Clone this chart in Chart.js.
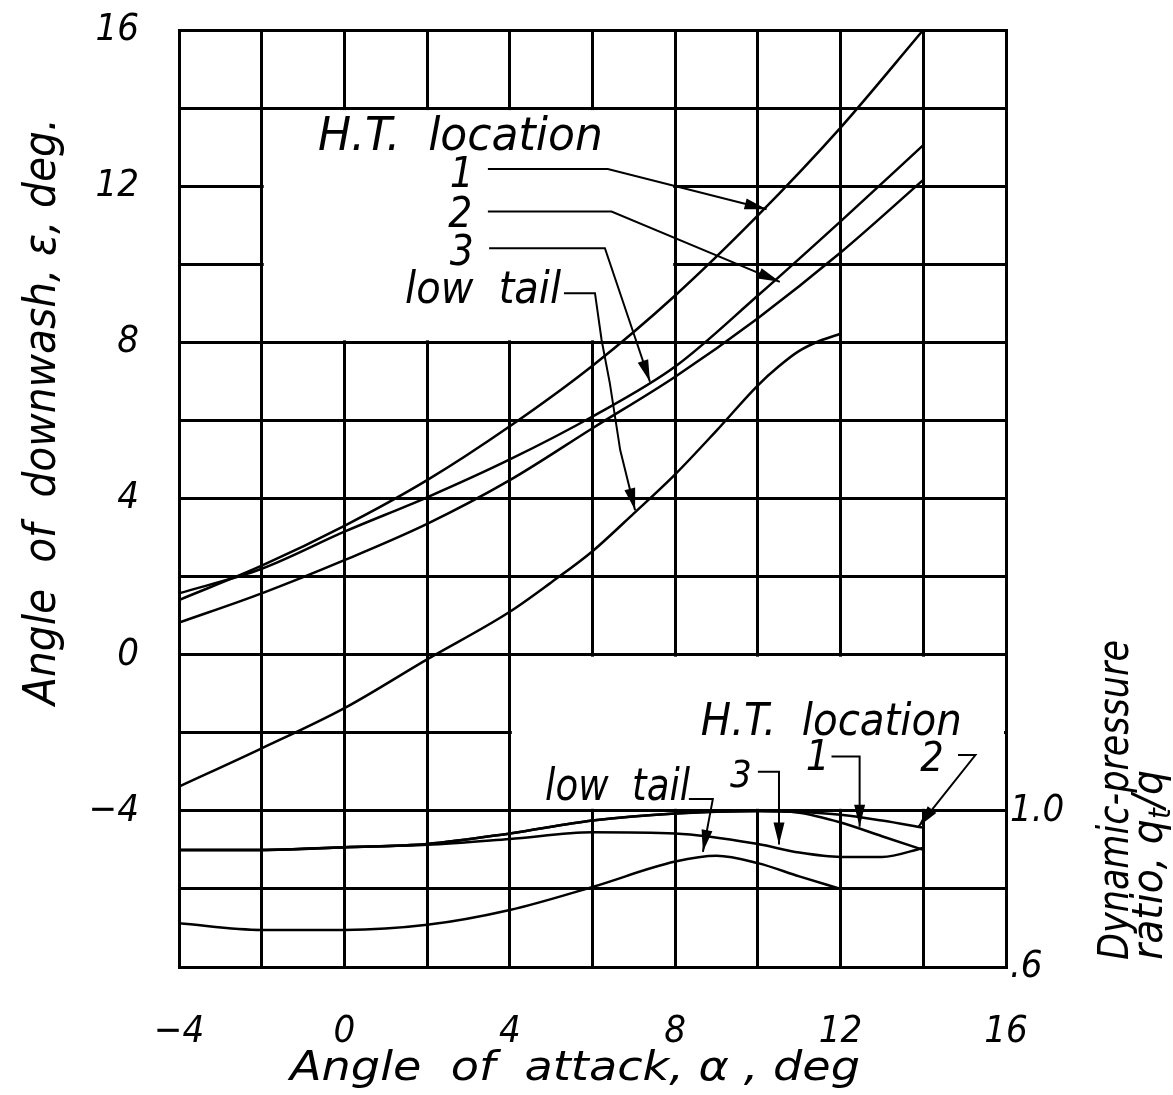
<!DOCTYPE html>
<html>
<head>
<meta charset="utf-8">
<title>Downwash and dynamic-pressure ratio</title>
<script src="https://cdn.jsdelivr.net/npm/chart.js@4.4.1/dist/chart.umd.min.js"></script>
<style>
  html, body { margin: 0; padding: 0; background: #fff; }
  canvas { display: block; }
</style>
</head>
<body>
<canvas id="chart" width="1173" height="1095"></canvas>
<script>
// angle of attack stations (deg) for the H.T. location curves
const alphaHT = [-4, -2, 0, 2, 4, 6, 8, 10, 12, 14];
// angle of downwash, deg
const downwash1 = [1.4, 2.28, 3.3, 4.47, 5.85, 7.4, 9.2, 11.25, 13.5, 16.0];
const downwash2 = [1.57, 2.2, 3.15, 4.03, 5.0, 6.1, 7.38, 9.2, 11.1, 13.05];
const downwash3 = [0.82, 1.57, 2.42, 3.35, 4.47, 5.8, 7.12, 8.62, 10.3, 12.16];

const alphaLowTail = [-4, -2, 0, 2, 4, 5, 6, 7, 8, 9, 10, 10.5, 11, 11.5, 12];
const downwashLowTail = [-3.38, -2.4, -1.37, -0.12, 1.1, 1.85, 2.65, 3.62, 4.62, 5.74, 6.9, 7.38, 7.78, 8.04, 8.22];

// dynamic-pressure ratio q_t/q
const alphaQ = [-4, -2, 0, 2, 4, 6, 8, 10, 11, 12, 13, 14];
const qRatio1 = [0.90, 0.90, 0.907, 0.915, 0.942, 0.975, 0.993, 1.0, 0.995, 0.97, 0.935, 0.90];
const qRatio2 = [0.90, 0.90, 0.907, 0.915, 0.942, 0.975, 0.993, 0.999, 0.997, 0.99, 0.975, 0.957];
const qRatio3 = [0.90, 0.90, 0.907, 0.913, 0.928, 0.945, 0.942, 0.915, 0.893, 0.882, 0.882, 0.905];

const alphaQLowTail = [-4, -2, 0, 2, 4, 6, 8, 9, 10, 11, 12];
const qRatioLowTail = [0.712, 0.695, 0.695, 0.708, 0.746, 0.805, 0.87, 0.885, 0.866, 0.832, 0.80];

const FONT = '"Liberation Sans Narrow", "DejaVu Sans Condensed", "DejaVu Sans", sans-serif';

// areas of the grid that are blanked out for the notes (alpha / epsilon)
const blankAreas = [
  { a0: -2, a1: 8, e0: 8, e1: 14 },
  { a0: 4, a1: 16, e0: -4, e1: 0 },
];

// notes, placed in alpha / epsilon units
const notes = [
  { text: 'H.T.  location', a: -0.64, e: 12.93, size: 46, align: 'left', width: 285 },
  { text: '1', a: 2.84, e: 11.98, size: 42, align: 'center' },
  { text: '2', a: 2.80, e: 10.95, size: 42, align: 'center' },
  { text: '3', a: 2.84, e: 9.98, size: 42, align: 'center' },
  { text: 'low  tail', a: 5.24, e: 9.01, size: 44, align: 'right', width: 156 },
  { text: 'H.T.  location', a: 8.62, e: -2.06, size: 45, align: 'left', width: 261 },
  { text: 'low  tail', a: 8.36, e: -3.72, size: 44, align: 'right', width: 145 },
  { text: '3', a: 9.59, e: -3.39, size: 38, align: 'center' },
  { text: '1', a: 11.45, e: -2.95, size: 42, align: 'center' },
  { text: '2', a: 14.21, e: -2.98, size: 41, align: 'center' },
];

const leaders = [
  [[3.47, 12.44], [6.37, 12.44], [10.21, 11.41]],
  [[3.47, 11.35], [6.46, 11.35], [10.53, 9.55]],
  [[3.50, 10.41], [6.30, 10.41], [7.39, 6.99]],
  [[5.31, 9.26], [6.06, 9.26], [6.22, 8.06], [6.42, 6.95], [6.67, 5.24], [7.03, 3.70]],
  [[8.33, -3.70], [8.91, -3.70], [8.67, -5.05]],
  [[10.0, -3.0], [10.51, -3.0], [10.51, -4.86]],
  [[11.78, -2.61], [12.46, -2.61], [12.46, -4.41]],
  [[14.84, -2.57], [15.26, -2.57], [13.88, -4.41]],
];

function points(xs, ys) {
  return xs.map((x, i) => ({ x: x, y: ys[i] }));
}

function curve(label, xs, ys, axis) {
  return {
    label: label,
    data: points(xs, ys),
    yAxisID: axis,
    borderColor: '#000',
    borderWidth: 2.5,
    pointRadius: 0,
    fill: false,
    cubicInterpolationMode: 'monotone',
  };
}

function drawText(ctx, parts, x, y, opt) {
  // parts: [[text, sizeFactor, baselineShift]]
  const size = opt.size;
  let natural = 0;
  parts.forEach(p => {
    ctx.font = `italic ${size * p[1]}px ${FONT}`;
    natural += ctx.measureText(p[0]).width;
  });
  const sx = opt.width ? opt.width / natural : 1;
  const total = natural * sx;
  let start = 0;
  if (opt.align === 'center') start = -total / 2;
  if (opt.align === 'right') start = -total;

  ctx.save();
  ctx.translate(x, y);
  if (opt.rotate) ctx.rotate(opt.rotate);
  ctx.translate(start, 0);
  ctx.scale(sx, 1);
  ctx.fillStyle = '#000';
  ctx.textAlign = 'left';
  ctx.textBaseline = 'alphabetic';
  let cx = 0;
  parts.forEach(p => {
    ctx.font = `italic ${size * p[1]}px ${FONT}`;
    ctx.fillText(p[0], cx, p[2] || 0);
    cx += ctx.measureText(p[0]).width;
  });
  ctx.restore();
}

function drawArrow(ctx, pts) {
  ctx.beginPath();
  pts.forEach((p, i) => i === 0 ? ctx.moveTo(p[0], p[1]) : ctx.lineTo(p[0], p[1]));
  ctx.stroke();

  const [x1, y1] = pts[pts.length - 2];
  const [x2, y2] = pts[pts.length - 1];
  const ang = Math.atan2(y2 - y1, x2 - x1);
  const len = 22, half = 5.5;
  ctx.beginPath();
  ctx.moveTo(x2, y2);
  ctx.lineTo(x2 - len * Math.cos(ang) + half * Math.sin(ang), y2 - len * Math.sin(ang) - half * Math.cos(ang));
  ctx.lineTo(x2 - len * Math.cos(ang) - half * Math.sin(ang), y2 - len * Math.sin(ang) + half * Math.cos(ang));
  ctx.closePath();
  ctx.fill();
}

const notesPlugin = {
  id: 'notesPlugin',
  beforeDatasetsDraw(chart) {
    const { ctx, scales: { x, y } } = chart;
    ctx.save();
    ctx.fillStyle = '#fff';
    blankAreas.forEach(b => {
      const l = x.getPixelForValue(b.a0) + 2;
      const r = x.getPixelForValue(b.a1) - 2;
      const t = y.getPixelForValue(b.e1) + 2;
      const btm = y.getPixelForValue(b.e0) - 2;
      ctx.fillRect(l, t, r - l, btm - t);
    });
    ctx.restore();
  },
  afterDatasetsDraw(chart) {
    const { ctx, scales: { x, y } } = chart;
    ctx.save();
    ctx.strokeStyle = '#000';
    ctx.fillStyle = '#000';
    ctx.lineWidth = 2;
    leaders.forEach(path => {
      drawArrow(ctx, path.map(p => [x.getPixelForValue(p[0]), y.getPixelForValue(p[1])]));
    });
    notes.forEach(n => {
      drawText(ctx, [[n.text, 1]], x.getPixelForValue(n.a), y.getPixelForValue(n.e), n);
    });
    ctx.restore();
  },
  afterDraw(chart) {
    const { ctx, chartArea: area } = chart;
    // axis titles
    drawText(ctx, [['Angle  of  attack, α , deg', 1]], area.left + 111, area.bottom + 113,
      { size: 40, align: 'left', width: 570 });
    drawText(ctx, [['Angle  of  downwash, ε, deg.', 1]], 55, area.top + 675,
      { size: 44, align: 'left', width: 587, rotate: -Math.PI / 2 });
    drawText(ctx, [['Dynamic-pressure', 1]], area.right + 122, area.bottom - 7,
      { size: 42, align: 'left', width: 320, rotate: -Math.PI / 2 });
    drawText(ctx, [['ratio, q', 1], ['t', 0.7, 8], ['/q', 1]], area.right + 156, area.bottom - 7,
      { size: 42, align: 'left', width: 190, rotate: -Math.PI / 2 });
  },
};

const tickFont = { family: FONT, size: 38, style: 'italic' };

function signed(v) {
  return v < 0 ? '\u2212' + Math.abs(v) : String(v);
}

// keep the plot frame fixed: no extra padding for tick labels
function noPad(s) {
  s.paddingTop = 0;
  s.paddingBottom = 0;
  s.paddingLeft = 0;
  s.paddingRight = 0;
}

new Chart(document.getElementById('chart'), {
  type: 'line',
  data: {
    datasets: [
      curve('1', alphaHT, downwash1, 'y'),
      curve('2', alphaHT, downwash2, 'y'),
      curve('3', alphaHT, downwash3, 'y'),
      curve('low tail', alphaLowTail, downwashLowTail, 'y'),
      curve('1', alphaQ, qRatio1, 'y2'),
      curve('2', alphaQ, qRatio2, 'y2'),
      curve('3', alphaQ, qRatio3, 'y2'),
      curve('low tail', alphaQLowTail, qRatioLowTail, 'y2'),
    ],
  },
  options: {
    responsive: false,
    animation: false,
    devicePixelRatio: 1,
    layout: { padding: { top: 30, left: 0, right: 0, bottom: 0 } },
    plugins: {
      legend: { display: false },
      tooltip: { enabled: false },
    },
    scales: {
      x: {
        type: 'linear',
        min: -4,
        max: 16,
        afterFit: s => { s.height = 128; noPad(s); },
        grid: { color: '#000', lineWidth: 3, drawTicks: false },
        border: { color: '#000', width: 3 },
        ticks: {
          stepSize: 2,
          autoSkip: false,
          maxRotation: 0,
          padding: 42,
          color: '#000',
          font: tickFont,
          callback: v => (v % 4 === 0 ? signed(v) : ''),
        },
      },
      y: {
        type: 'linear',
        position: 'left',
        min: -8,
        max: 16,
        afterFit: s => { s.width = 179; noPad(s); },
        grid: { color: '#000', lineWidth: 3, drawTicks: false },
        border: { color: '#000', width: 3 },
        ticks: {
          stepSize: 2,
          autoSkip: false,
          padding: 40,
          color: '#000',
          font: tickFont,
          callback: v => (v % 4 === 0 && v > -8 ? signed(v) : ''),
        },
      },
      y2: {
        type: 'linear',
        position: 'right',
        min: 0.6,
        max: 3.0,
        afterFit: s => { s.width = 167; noPad(s); },
        afterBuildTicks: s => { s.ticks = [{ value: 0.6 }, { value: 1.0 }]; },
        grid: { display: false, drawTicks: false },
        border: { color: '#000', width: 3 },
        ticks: {
          autoSkip: false,
          padding: 4,
          color: '#000',
          font: tickFont,
          callback: v => (v === 1 ? '1.0' : '.6'),
        },
      },
    },
  },
  plugins: [notesPlugin],
});
</script>
</body>
</html>
